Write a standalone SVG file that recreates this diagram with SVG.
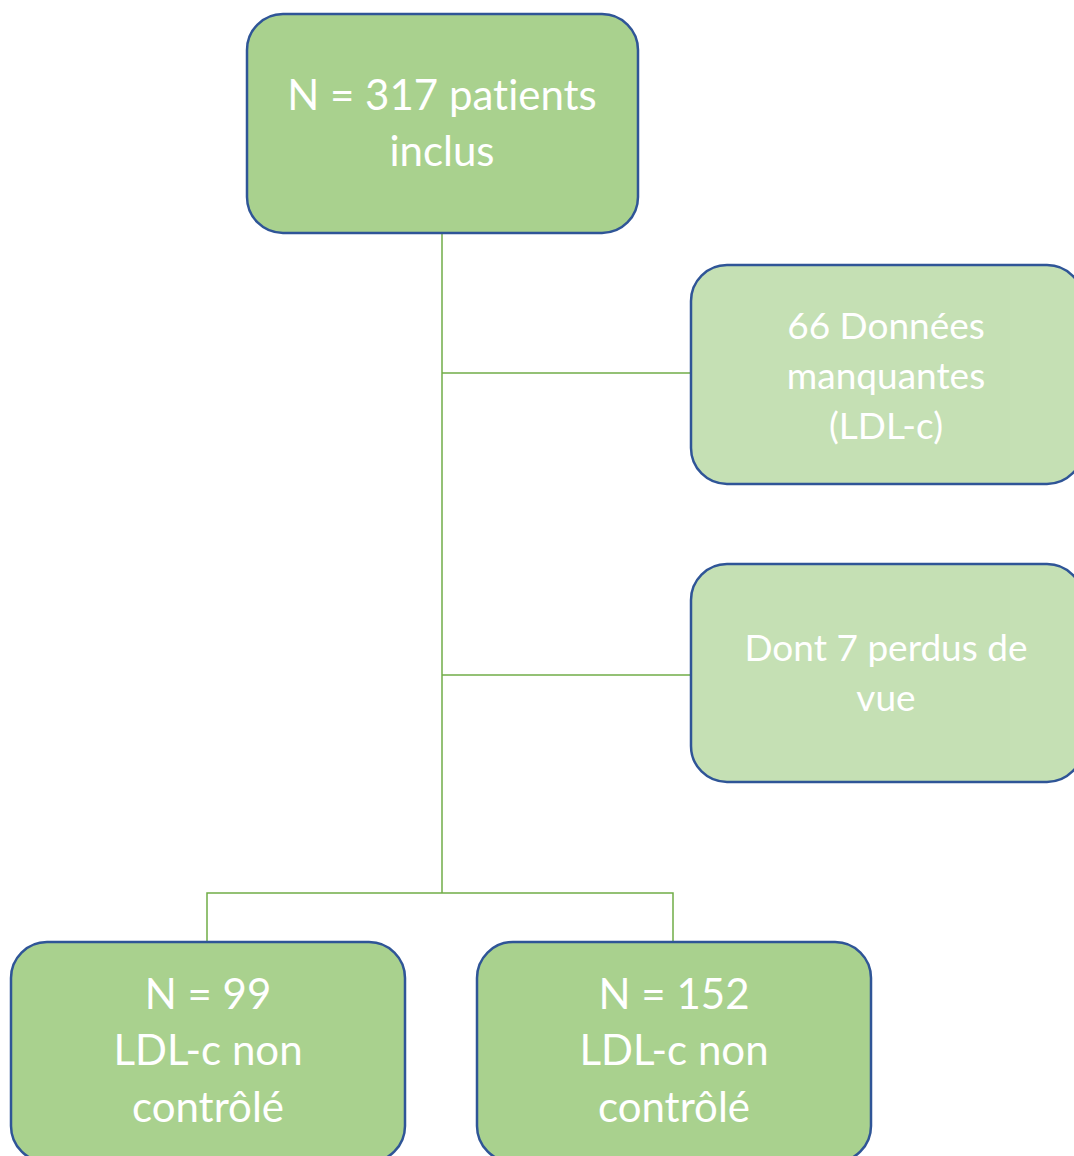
<svg xmlns="http://www.w3.org/2000/svg" width="1074" height="1156" viewBox="0 0 1074 1156">
<style>
.box{stroke:#2f5597;stroke-width:2.5}
.main{fill:#a9d18e}
.side{fill:#c5e0b4}
.t{font-family:Lato,"Open Sans",sans-serif;fill:#ffffff;text-anchor:middle;font-variant-ligatures:none}
.big{font-size:42px}
.sm{font-size:37px}
.c{stroke:#70ad47;stroke-width:1.5;fill:none}
</style>
<rect width="1074" height="1156" fill="#ffffff"/>
<g id="connectors">
<path class="c" d="M442 233V893"/>
<path class="c" d="M442 373H691"/>
<path class="c" d="M442 675H691"/>
<path class="c" d="M207 942V893H673V942"/>
</g>
<g id="n-top">
<rect class="box main" x="247" y="14" width="391" height="219" rx="36"/>
<text class="t big" x="442" y="110">N = 317 patients</text>
<text class="t big" x="442" y="166">inclus</text>
</g>
<g id="n-missing">
<rect class="box side" x="691" y="265" width="392" height="219" rx="36"/>
<text class="t sm" x="886" y="339">66 Données</text>
<text class="t sm" x="886" y="389">manquantes</text>
<text class="t sm" x="886" y="439">(LDL-c)</text>
</g>
<g id="n-lost">
<rect class="box side" x="691" y="564" width="392" height="218" rx="36"/>
<text class="t sm" x="886" y="661">Dont 7 perdus de</text>
<text class="t sm" x="886" y="711">vue</text>
</g>
<g id="n-99">
<rect class="box main" x="11" y="942" width="394" height="220" rx="36"/>
<text class="t big" x="208" y="1009">N = 99</text>
<text class="t big" x="208" y="1065">LDL-c non</text>
<text class="t big" x="208" y="1122">contrôlé</text>
</g>
<g id="n-152">
<rect class="box main" x="477" y="942" width="394" height="220" rx="36"/>
<text class="t big" x="674" y="1009">N = 152</text>
<text class="t big" x="674" y="1065">LDL-c non</text>
<text class="t big" x="674" y="1122">contrôlé</text>
</g>
</svg>
